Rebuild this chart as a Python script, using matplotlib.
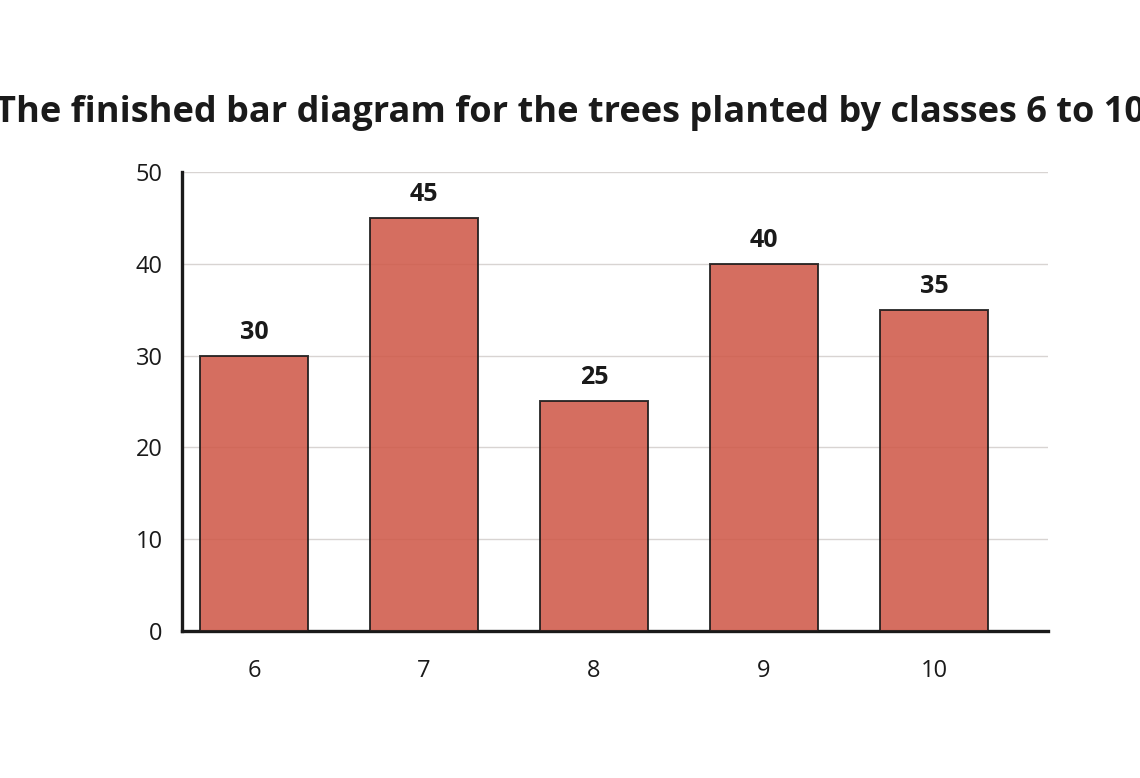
import matplotlib
matplotlib.use("Agg")
import matplotlib.pyplot as plt

classes = ["6", "7", "8", "9", "10"]
trees = [30, 45, 25, 40, 35]
yticks = [0, 10, 20, 30, 40, 50]
title = "The finished bar diagram for the trees planted by classes 6 to 10"

plt.rcParams['font.family'] = ['Open Sans', 'DejaVu Sans']

fig = plt.figure(figsize=(11.4, 7.78), dpi=100)
ax = fig.add_axes([0.1596, 0.189, 0.7597, 0.590])

x = list(range(len(classes)))
bars = ax.bar(x, trees, width=0.635, color="#d05a4a", alpha=0.88,
              edgecolor="#1a1a1a", linewidth=1.4, zorder=3)
for xi, v in zip(x, trees):
    ax.text(xi, v + 1.2, str(v), ha="center", va="bottom",
            fontsize=18, fontweight="bold", color="#1a1a1a", zorder=4)

ax.set_xlim(-0.4235, 4.67)
ax.set_ylim(0, 50)
ax.set_yticks(yticks)
ax.set_xticks(x)
ax.set_xticklabels(classes)
ax.tick_params(axis="both", length=0, labelsize=17, colors="#1a1a1a")
ax.tick_params(axis="x", pad=20)
ax.tick_params(axis="y", pad=14)
ax.grid(axis="y", color="#d8d4d2", linewidth=1, zorder=0)
for s in ["top", "right"]:
    ax.spines[s].set_visible(False)
for s in ["left", "bottom"]:
    ax.spines[s].set_linewidth(2.4)
    ax.spines[s].set_color("#1a1a1a")

fig.text(0.5, 0.843, title, ha="center", va="baseline", fontsize=26,
         fontweight="bold", color="#1a1a1a")

fig.savefig("out.png", dpi=100)
